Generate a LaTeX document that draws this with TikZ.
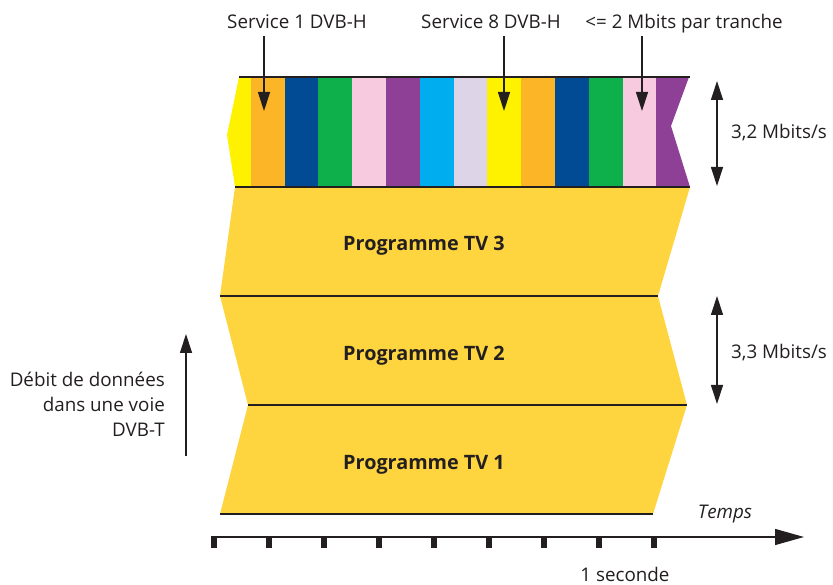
\documentclass[tikz,border=0pt]{standalone}
\usepackage{fontspec}
\setmainfont{Open Sans}
\usetikzlibrary{arrows.meta}
\definecolor{cyel}{HTML}{FFF200}
\definecolor{corange}{HTML}{FCB527}
\definecolor{cblue}{HTML}{004B93}
\definecolor{cgreen}{HTML}{0DB04B}
\definecolor{cpink}{HTML}{F7CADF}
\definecolor{cpurple}{HTML}{8E3F96}
\definecolor{ccyan}{HTML}{00AEEF}
\definecolor{clav}{HTML}{DED4E8}
\definecolor{band}{HTML}{FED53F}
\definecolor{ink}{HTML}{231F20}
\tikzset{
  txt/.style={font=\fontsize{18.8}{25}\selectfont, text=ink, inner sep=0pt},
  bold/.style={txt, font=\fontsize{19.8}{24}\selectfont\bfseries},
  rule/.style={draw=ink, line width=1.8},
  ptr/.style={draw=ink, line width=1.2, -{Triangle[length=19,width=12]}},
  dptr/.style={draw=ink, line width=1.2, {Triangle[length=19,width=12]}-{Triangle[length=19,width=12]}}
}
\begin{document}
\begin{tikzpicture}[x=1pt,y=-1pt]
\useasboundingbox (0,0) rectangle (833,585);
% yellow bands
\fill[band] (235,187) -- (690,187) -- (658,296) -- (687,405) -- (653,514) -- (220,514) -- (248,405) -- (220,296) -- cycle;
% strip
\fill[cyel] (239,77) -- (251,77) -- (251,187) -- (235,187) -- (227,135) -- cycle;
\foreach \a/\b/\c in {251/285/corange, 285/318/cblue, 318/352/cgreen, 352/386/cpink, 386/420/cpurple, 420/454/ccyan, 454/487/clav, 487/521/cyel, 521/555/corange, 555/589/cblue, 589/623/cgreen, 623/656/cpink}
  \fill[\c] (\a,77) rectangle (\b,187);
\fill[cpurple] (656,77) -- (689,77) -- (671,126) -- (690,187) -- (656,187) -- cycle;
% rules
\draw[rule] (239,77) -- (690,77);
\draw[rule] (235,187) -- (690,187);
\draw[rule] (220,296) -- (658,296);
\draw[rule] (248,405) -- (687,405);
\draw[rule] (220,514) -- (653,514);
% labels
\node[txt, anchor=base] (s1) at (297,29) {Service 1 DVB-H};
\node[txt, anchor=base] (s8) at (491,29) {Service 8 DVB-H};
\node[txt, anchor=base] (lim) at (684,29) {<= 2 Mbits par tranche};
\coordinate (s1t) at (264,111);
\coordinate (s8t) at (504,111);
\coordinate (limt) at (642,111);
\draw[ptr] (264,36) -- (s1t);
\draw[ptr] (504,36) -- (s8t);
\draw[ptr] (642,36) -- (limt);
\node[bold, anchor=base] (p3) at (424,251) {Programme TV 3};
\node[bold, anchor=base] (p2) at (424,360) {Programme TV 2};
\node[bold, anchor=base] (p1) at (424,469) {Programme TV 1};
% right double arrows
\coordinate (a1) at (717,81);
\coordinate (b1) at (717,186);
\coordinate (a2) at (717,296);
\coordinate (b2) at (717,404);
\draw[dptr] (a1) -- (b1);
\draw[dptr] (a2) -- (b2);
\node[txt, anchor=west] (r1) at (731,133) {3,2 Mbits/s};
\node[txt, anchor=west] (r2) at (731,353) {3,3 Mbits/s};
% left axis
\coordinate (ya) at (186,456);
\coordinate (yb) at (186,334);
\draw[ptr] (ya) -- (yb);
\node[txt, anchor=east, align=right] (deb) at (165,404) {Débit de données\\dans une voie\\DVB-T};
% time axis
\coordinate (t0) at (211,537);
\coordinate (t1) at (804,537);
\draw[draw=ink, line width=1.3, -{Triangle[length=29,width=16]}] (t0) -- (t1);
\foreach \i in {0,...,8}
  \draw[ink, line width=5.5] ({214+55*\i},536) -- ({214+55*\i},548);
\node[txt, anchor=center, font=\fontsize{18.8}{22}\selectfont\itshape] (tm) at (725,514) {Temps};
\node[txt, anchor=center] (sec) at (625,574) {1 seconde};
\end{tikzpicture}
\end{document}
